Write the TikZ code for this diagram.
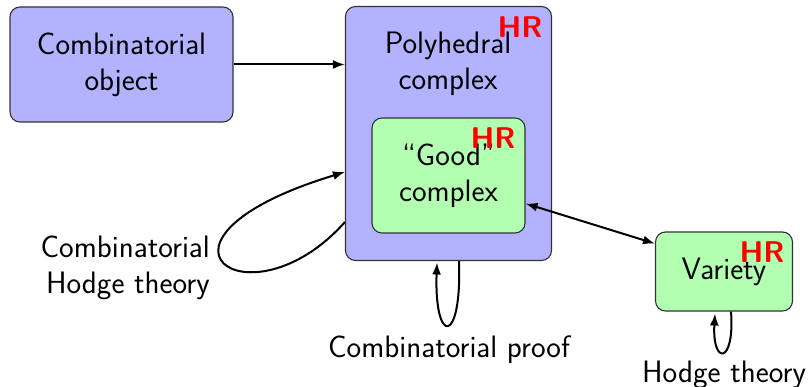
\documentclass[tikz,border=0pt]{standalone}
\usepackage{fontspec}
\usetikzlibrary{arrows.meta,calc}
\begin{document}
\begin{tikzpicture}[x=1pt,y=-1pt,
  txt/.style={font=\fontsize{31}{36}\selectfont\sffamily, inner sep=0pt},
  boxbase/.style={txt, draw=black!80, line width=1.1pt, rounded corners=10pt, align=center},
  bluebox/.style={boxbase, fill=blue!30},
  greenbox/.style={boxbase, fill=green!30},
  hr/.style={font=\fontsize{30}{36}\selectfont\sffamily\bfseries, text=red, inner sep=0pt},
  conn/.style={line width=2pt, -{Latex[length=12pt,width=9pt]}},
  dconn/.style={line width=2pt, {Latex[length=12pt,width=9pt]}-{Latex[length=12pt,width=9pt]}}
]
\useasboundingbox (0,0) rectangle (808,387);

% boxes
\node[bluebox, minimum width=223pt, minimum height=115pt] (comb) at (121.5,64.5) {Combinatorial\\object};
\node[bluebox, minimum width=206pt, minimum height=254pt] (poly) at (448.5,133.5) {};
\node[txt, align=center] (polytxt) at (448,64) {Polyhedral\\complex};
\node[greenbox, minimum width=153pt, minimum height=115pt] (good) at (448.5,175.5) {``Good''\\complex};
\node[greenbox, minimum width=137pt, minimum height=79pt] (var) at (724,271.5) {Variety};

% HR marks
\node[hr] (hrpoly) at (520,27.5) {HR};
\node[hr] (hrgood) at (493,138) {HR};
\node[hr] (hrvar) at (762,252) {HR};

% loop captions
\node[txt, align=right, anchor=east] (chlbl) at (210,267.8) {Combinatorial\\Hodge theory};
\node[txt, anchor=base] (cplbl) at (449,357) {Combinatorial proof};
\node[txt, anchor=base] (htlbl) at (724,382) {Hodge theory};

% connectors
\draw[conn] (comb.east) -- (comb.east -| poly.west);
\draw[conn] ($(poly.west)+(0,88.5)$) .. controls +(-96,108) and +(-224,68) .. ($(poly.west)+(0,38.5)$);
\draw[conn] ($(poly.south)+(10.5,0)$) .. controls +(3,85) and +(-3,83) .. ($(poly.south)+(-11.5,1.5)$);
\draw[conn] ($(var.south)+(7,0)$) .. controls +(4,53) and +(-3,52) .. ($(var.south)+(-9,2)$);
\draw[dconn] (good.-20) -- (var.158);
\end{tikzpicture}
\end{document}
